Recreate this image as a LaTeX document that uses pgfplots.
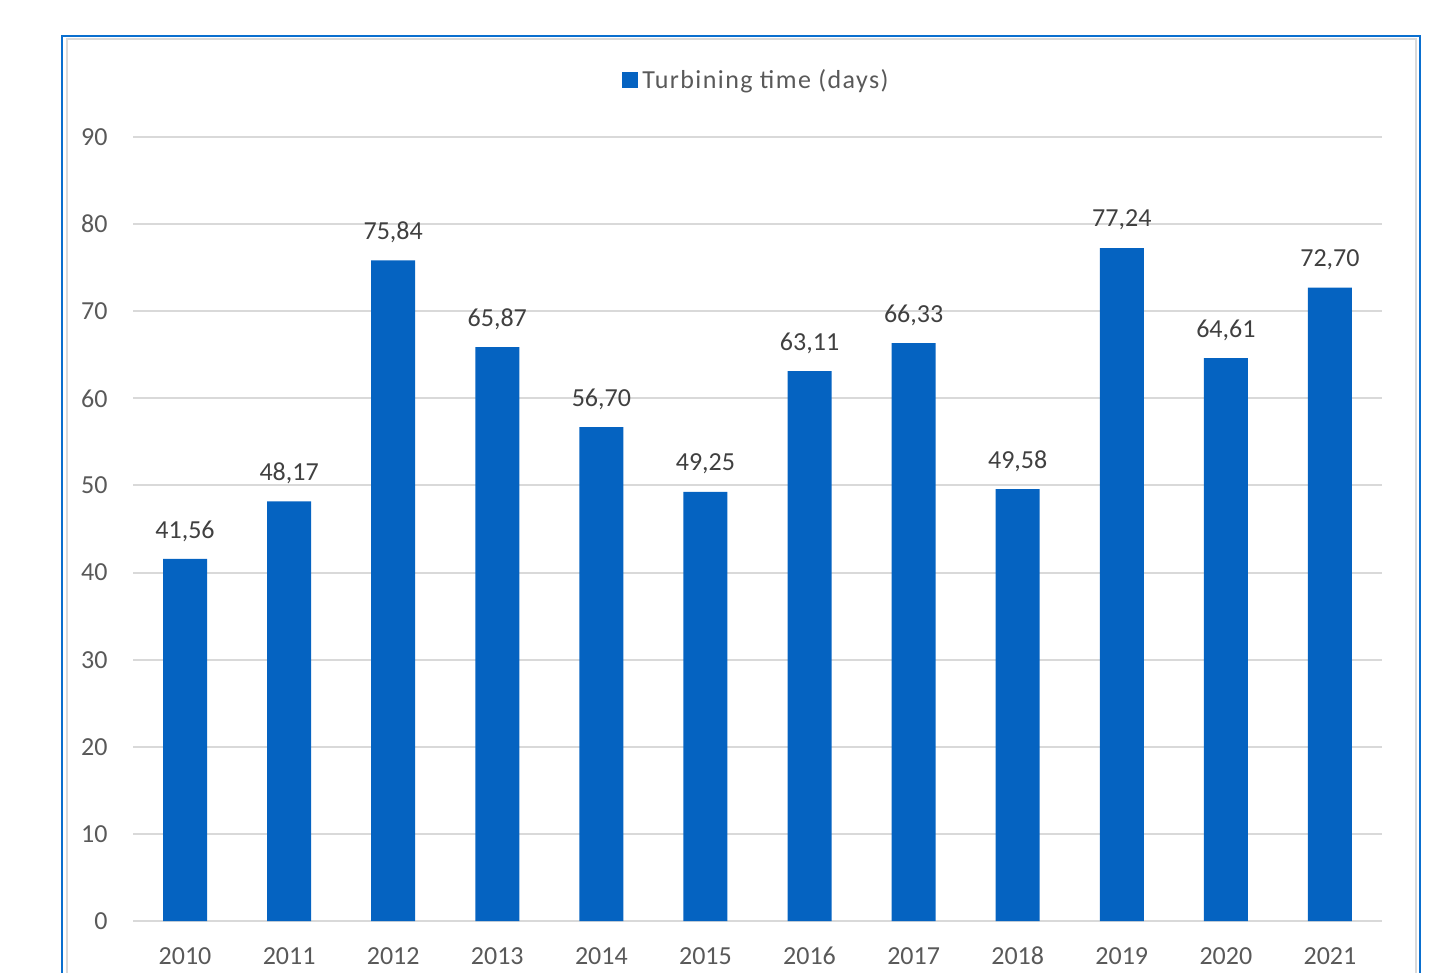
\documentclass[border=0pt]{standalone}
\usepackage{pgfplots}
\pgfplotsset{compat=1.18}
\usepackage{fontspec}
\setmainfont{Carlito}
\newfontfamily\legfont[LetterSpace=5.5]{Carlito}
\definecolor{barblue}{HTML}{0563C1}
\definecolor{gridgray}{HTML}{D9D9D9}
\definecolor{ticktext}{HTML}{595959}
\definecolor{labeltext}{HTML}{404040}
\definecolor{frameblue}{HTML}{0A6FCF}
\begin{document}
\begin{tikzpicture}[x=1pt,y=1pt]
\useasboundingbox (0,0) rectangle (716.5,486.5);
\clip (0,0) rectangle (716.5,486.5);
\draw[gridgray, line width=1pt] (33.25,-5) -- (33.25,466.75) -- (708,466.75) -- (708,-5);
\draw[frameblue, line width=1pt] (31,-5) -- (31,468.5) -- (710,468.5) -- (710,-5);
\begin{axis}[
  at={(66.5pt,26pt)}, anchor=south west,
  scale only axis, width=624.5pt, height=392pt,
  xmin=-0.5, xmax=11.5, ymin=0, ymax=90,
  ytick={0,10,...,90},
  xtick={0,...,11},
  xticklabels={2010,2011,2012,2013,2014,2015,2016,2017,2018,2019,2020,2021},
  axis line style={draw=none},
  major tick length=0pt,
  ymajorgrids, grid style={gridgray, line width=1pt},
  /pgf/number format/assume math mode=true,
  tick label style={font=\fontsize{13}{15}\selectfont, color=ticktext},
  xticklabel style={anchor=center, yshift=-17.5pt, inner sep=0pt},
  yticklabel style={anchor=east, inner sep=0pt, xshift=-12.5pt},
  legend style={at={(0.5,1.0727)}, anchor=center, draw=none, fill=none,
    font=\legfont\fontsize{13}{15}\selectfont, text=ticktext, inner sep=0pt},
  legend image code/.code={\fill[barblue] (0pt,-4pt) rectangle (8pt,4pt);},
  nodes near coords,
  nodes near coords style={font=\fontsize{13}{15}\selectfont, color=labeltext, anchor=center, yshift=14pt,
    /pgf/number format/.cd, fixed, fixed zerofill, precision=2, use comma, assume math mode=true},
]
\addplot[ybar, bar width=22pt, fill=barblue, draw=none] coordinates {
(0,41.56) (1,48.17) (2,75.84) (3,65.87) (4,56.70) (5,49.25)
(6,63.11) (7,66.33) (8,49.58) (9,77.24) (10,64.61) (11,72.70)};
\addlegendentry{Turbining time (days)}
\end{axis}
\end{tikzpicture}
\end{document}
